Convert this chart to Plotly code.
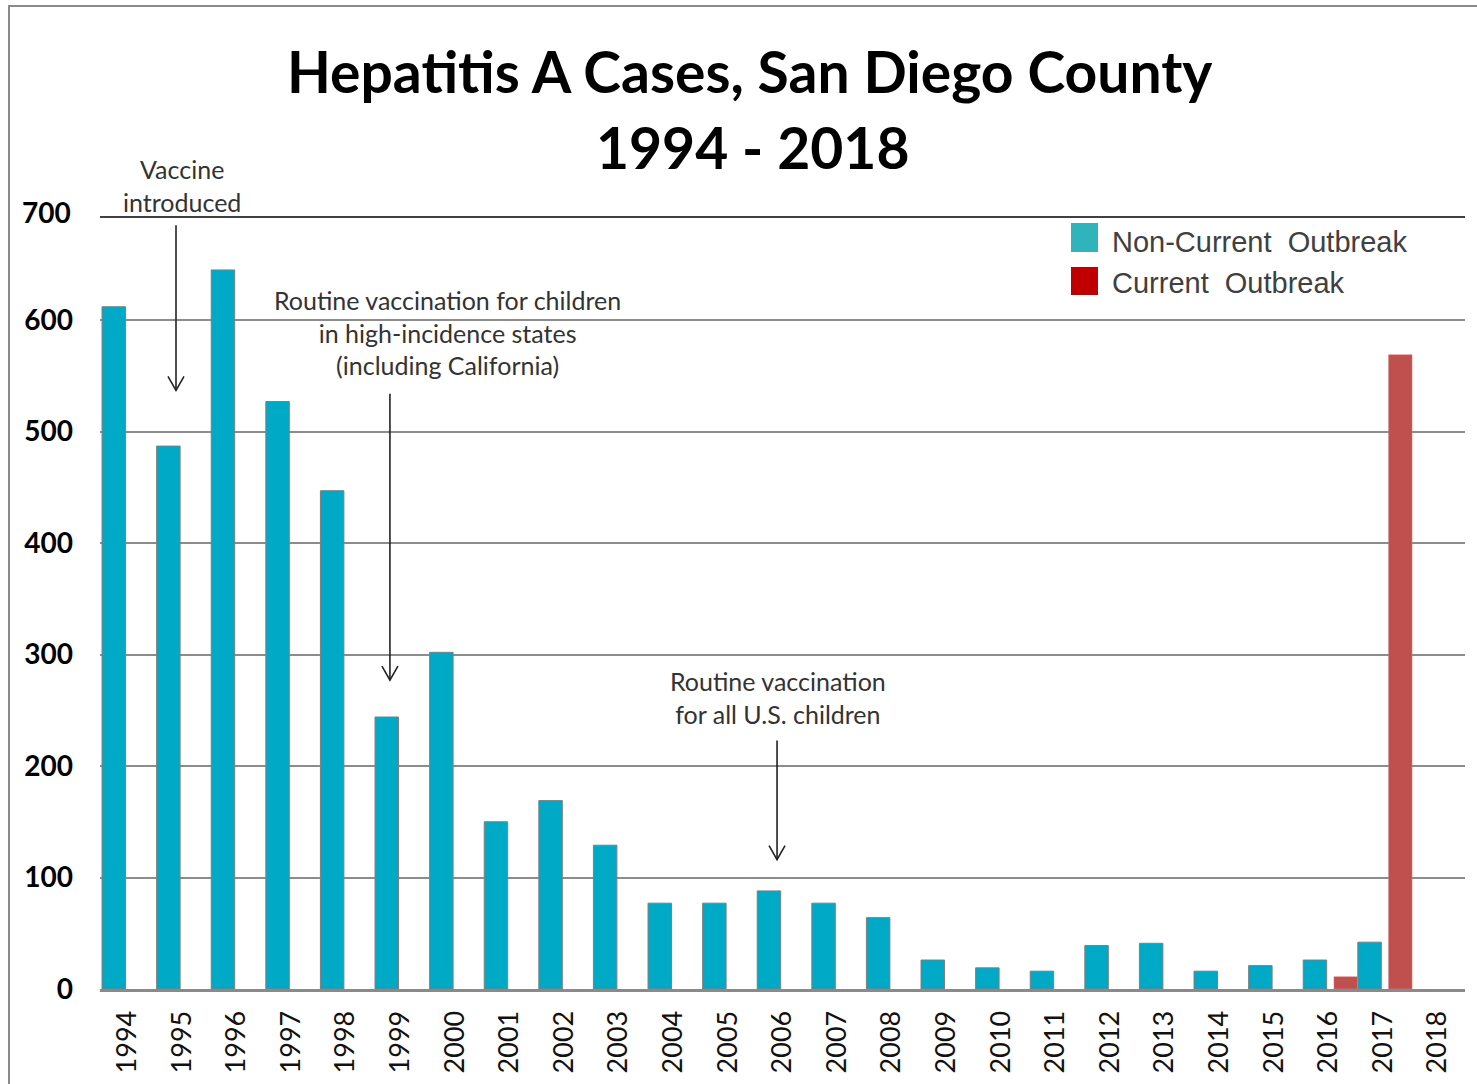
import plotly.graph_objects as go

years = [str(y) for y in range(1994, 2019)]
non_current = [612, 487, 645, 527, 447, 244, 302, 150, 169, 129, 77, 77, 88, 77, 64,
               26, 19, 16, 39, 41, 16, 21, 26, 42, None]
current = [None] * 22 + [11, 569, None]

y_ticks = [0, 100, 200, 300, 400, 500, 600]
top_tick = 700
y_max = 692.5

title_line1 = "Hepatitis A Cases, San Diego County"
title_line2 = "1994 - 2018"
legend_labels = ["Non-Current&nbsp; Outbreak", "Current&nbsp; Outbreak"]

# annotation texts with (x index, tail value, tip value) for arrows
notes = [
    {"text": "Vaccine<br>introduced", "tx": 1.0, "ty": 1.041,
     "ax": 0.892, "y0": 685, "y1": 537},
    {"text": "Routine vaccination for children<br>in high-incidence states<br>(including California)",
     "tx": 5.87, "ty": 0.851, "ax": 4.81, "y0": 534, "y1": 277},
    {"text": "Routine vaccination<br>for all U.S. children",
     "tx": 11.91, "ty": 0.377, "ax": 11.90, "y0": 223, "y1": 116},
]

BLUE = "#00A9C6"
RED = "#C0504D"

fig = go.Figure()
fig.add_trace(go.Bar(
    x=years, y=non_current, name="Non-Current Outbreak",
    marker=dict(color=BLUE, line=dict(color="#7f7f7f", width=1)),
    offset=-0.463, width=0.43, showlegend=False,
))
fig.add_trace(go.Bar(
    x=years, y=current, name="Current Outbreak",
    marker=dict(color=RED, line=dict(color="#d08080", width=0.5)),
    offset=0.10, width=0.43, showlegend=False,
))

L, R, T, B = 100, 12, 217, 95
W, H = 1477, 1084
pw, ph = W - L - R, H - T - B

def px_to_paper_x(px):
    return (px - L) / pw

def px_to_paper_y(py):
    return (H - B - py) / ph

shapes = []
# outer frame
shapes.append(dict(type="rect", xref="paper", yref="paper",
                   x0=px_to_paper_x(9), x1=px_to_paper_x(1490),
                   y0=px_to_paper_y(1100), y1=px_to_paper_y(6),
                   line=dict(color="#8a8a8a", width=2), fillcolor="rgba(0,0,0,0)", layer="below"))
# top border line (darker)
shapes.append(dict(type="line", xref="paper", yref="paper", x0=0, x1=1, y0=1, y1=1,
                   line=dict(color="#404040", width=2)))

annotations = []
for n in notes:
    annotations.append(dict(text=n["text"], xref="x", yref="paper", x=n["tx"], y=n["ty"],
                            showarrow=False, xanchor="center", yanchor="middle",
                            font=dict(family="Lato", size=25, color="#333333")))
    shapes.append(dict(type="line", xref="x", yref="y", x0=n["ax"], x1=n["ax"],
                       y0=n["y0"], y1=n["y1"], line=dict(color="#222222", width=1.6)))
    shapes.append(dict(type="path", xref="x", yref="y", xsizemode="pixel", ysizemode="pixel",
                       xanchor=n["ax"], yanchor=n["y1"],
                       path="M -8,14 L 0,0 L 8,14",
                       line=dict(color="#222222", width=1.6)))

# "700" label at the top edge of the value axis
annotations.append(dict(text="<b>%d</b>" % top_tick, xref="paper", yref="paper",
                        x=px_to_paper_x(73), y=px_to_paper_y(212), showarrow=False,
                        xanchor="right", yanchor="middle",
                        font=dict(family="Lato", size=28, color="#000000")))

# title
annotations.append(dict(text="<b>" + title_line1 + "</b>", xref="paper", yref="paper",
                        x=px_to_paper_x(750), y=px_to_paper_y(71), showarrow=False,
                        xanchor="center", yanchor="middle",
                        font=dict(family="Lato", size=57, color="#000000")))
annotations.append(dict(text="<b>" + title_line2 + "</b>", xref="paper", yref="paper",
                        x=px_to_paper_x(752), y=px_to_paper_y(147), showarrow=False,
                        xanchor="center", yanchor="middle",
                        font=dict(family="Lato", size=57, color="#000000")))

# legend (custom, large swatches)
legend_colors = ["#2FB4BB", "#C00000"]
legend_rows = [(223, 252, 242), (267, 295, 283)]
for lbl, col, (ya, yb, yc) in zip(legend_labels, legend_colors, legend_rows):
    shapes.append(dict(type="rect", xref="paper", yref="paper",
                       x0=px_to_paper_x(1071), x1=px_to_paper_x(1098),
                       y0=px_to_paper_y(yb), y1=px_to_paper_y(ya),
                       fillcolor=col, line=dict(width=0)))
    annotations.append(dict(text=lbl, xref="paper", yref="paper",
                            x=px_to_paper_x(1110), y=px_to_paper_y(yc), showarrow=False,
                            xanchor="left", yanchor="middle",
                            font=dict(family="Liberation Sans", size=29, color="#404040")))

fig.update_layout(
    width=W, height=H,
    margin=dict(l=L, r=R, t=T, b=B, autoexpand=False),
    template="none",
    paper_bgcolor="white", plot_bgcolor="white",
    barmode="overlay",
    showlegend=False,
    shapes=shapes,
    annotations=annotations,
    xaxis=dict(type="category", categoryorder="array", categoryarray=years,
               range=[-0.5, 24.5], tickangle=-90, showgrid=False,
               showline=True, linecolor="#8a8a8a", linewidth=3, ticks="",
               tickfont=dict(family="Lato", size=27, color="#111111"),
               ticklabelstandoff=8, automargin=False, zeroline=False),
    yaxis=dict(range=[0, y_max], tickvals=y_ticks, ticktext=[str(v) for v in y_ticks],
               showgrid=True, gridcolor="#8c8c8c", gridwidth=2, zeroline=False,
               showline=False, ticks="",
               tickfont=dict(family="Lato", size=28, color="#000000", weight="bold"),
               ticklabelstandoff=26, automargin=False),
)

fig.write_html("out.html", config={"displayModeBar": False},
               post_script="document.body.style.margin='0px';")
